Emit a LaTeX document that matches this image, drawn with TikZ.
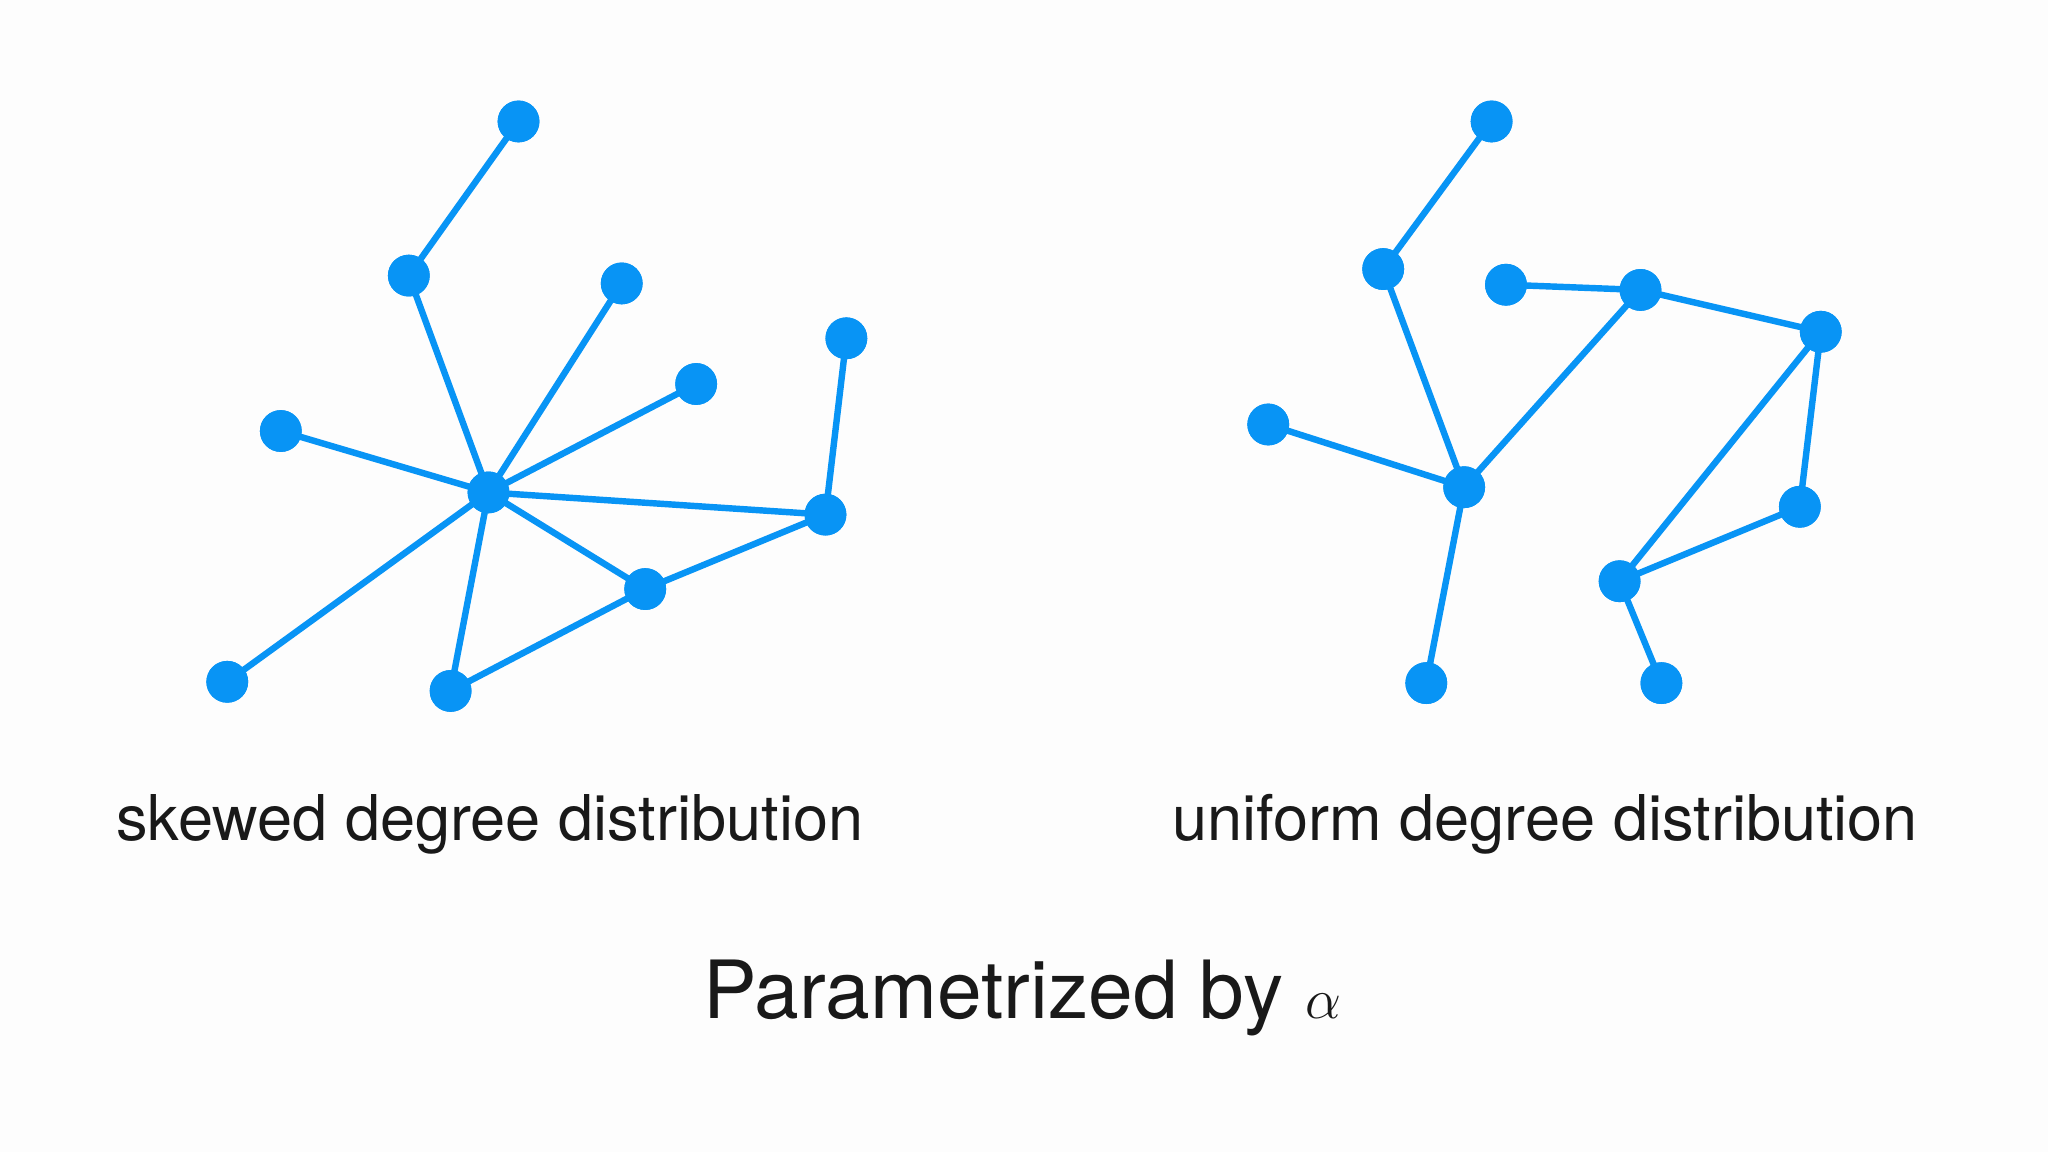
\documentclass[tikz,border=0pt]{standalone}
\usepackage{fontspec}
\setmainfont{TeX Gyre Heros}
\definecolor{nodeblue}{RGB}{8,148,245}
\definecolor{bg}{RGB}{253,253,253}
\begin{document}
\begin{tikzpicture}[x=0.02cm,y=-0.02cm,
  dot/.style={circle,fill=nodeblue,inner sep=0pt,minimum size=0.64cm},
  edge/.style={draw=nodeblue,line width=2.8pt},
  lbl/.style={font=\fontsize{27.5}{30}\selectfont,text=black!90}]
\fill[bg] (0,0) rectangle (1568,882);
\useasboundingbox (0,0) rectangle (1568,882);
% left graph
\foreach \n/\x/\y in {a/397/93,b/313/211,c/476/217,d/533/294,e/648/259,f/215/330,h/374/377,g/632/394,i/494/451,j/174/522,k/345/529}
  \node[dot] (\n) at (\x,\y) {};
\begin{scope}[on background layer/.try]
\end{scope}
\foreach \u/\v in {a/b,b/h,c/h,d/h,f/h,h/g,g/e,h/i,i/g,h/j,h/k,k/i}
  \draw[edge] (\u.center) -- (\v.center);
% right graph
\foreach \n/\x/\y in {A/1142/93,B/1059/206,C/1153/218,D/1256/222,E/1394/254,F/971/325,H/1121/373,G/1378/388,I/1240/445,J/1092/523,K/1272/523}
  \node[dot] (\n) at (\x,\y) {};
\foreach \u/\v in {A/B,B/H,F/H,H/D,C/D,D/E,E/G,E/I,G/I,I/K,H/J}
  \draw[edge] (\u.center) -- (\v.center);
% redraw dots over edges
\foreach \n/\x/\y in {a/397/93,b/313/211,c/476/217,d/533/294,e/648/259,f/215/330,h/374/377,g/632/394,i/494/451,j/174/522,k/345/529,A/1142/93,B/1059/206,C/1153/218,D/1256/222,E/1394/254,F/971/325,H/1121/373,G/1378/388,I/1240/445,J/1092/523,K/1272/523}
  \fill[nodeblue] (\x,\y) circle (16);
\node[lbl] (t1) at (375,631) {skewed degree distribution};
\node[lbl] (t2) at (1183,631) {uniform degree distribution};
\node[font=\fontsize{35}{40}\selectfont,text=black!90] (t3) at (783,764) {Parametrized by $\alpha$};
\end{tikzpicture}
\end{document}
